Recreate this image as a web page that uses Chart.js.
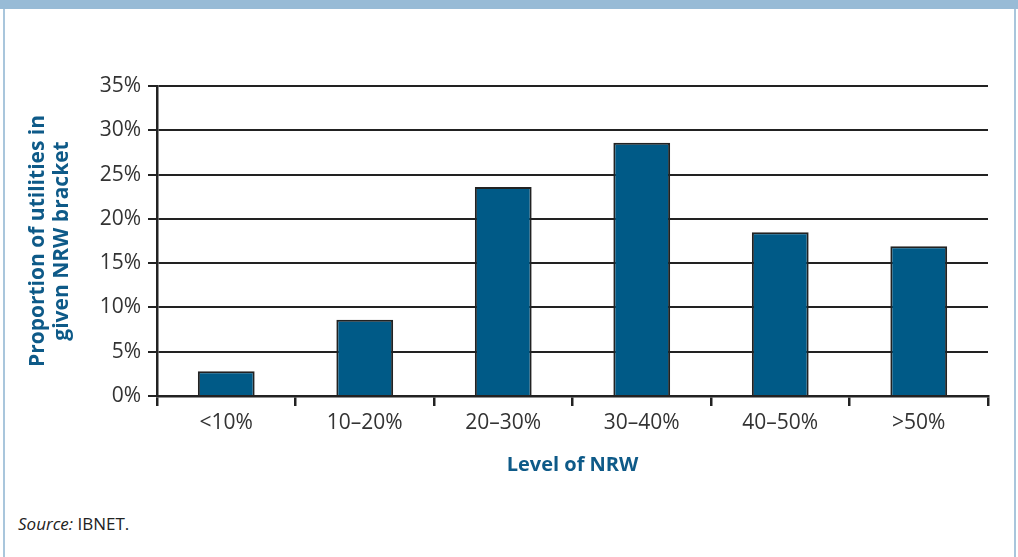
<!DOCTYPE html>
<html>
<head>
<meta charset="utf-8">
<script src="https://cdn.jsdelivr.net/npm/chart.js@4/dist/chart.umd.min.js"></script>
<style>
    body { margin: 0; background: #fff; }
    #wrap { position: relative; width: 1018px; height: 557px; overflow: hidden; }
    #band { position: absolute; left: 0; top: 0; width: 1018px; height: 9px; background: #98BBD6; }
    #lline { position: absolute; left: 3px; top: 9px; width: 2px; height: 548px; background: #A9C6DC; }
    #rline { position: absolute; left: 1014px; top: 9px; width: 2px; height: 548px; background: #A9C6DC; }
    #source { position: absolute; left: 18px; top: 512px; font: 17px "Open Sans", sans-serif; color: #222; }
    canvas { position: absolute; left: 0; top: 0; }
</style>
</head>
<body>
<div id="wrap">
    <div id="band"></div>
    <div id="lline"></div>
    <div id="rline"></div>
    <div id="source"><i>Source:</i> IBNET.</div>
    <canvas id="chart" width="1018" height="557"></canvas>
</div>
<script>
// Data
const categories = ['<10%', '10\u201320%', '20\u201330%', '30\u201340%', '40\u201350%', '>50%'];
const shares = [2.8, 8.6, 23.6, 28.6, 18.5, 16.9];

const BLUE = '#005A87';
const INK = '#222222';
const FONT = '"Open Sans", sans-serif';

const ctx = document.getElementById('chart').getContext('2d');
new Chart(ctx, {
    type: 'bar',
    data: {
        labels: categories,
        datasets: [{
            data: shares,
            backgroundColor: BLUE,
            borderColor: INK,
            borderWidth: 2,
            borderSkipped: 'bottom',
            barPercentage: 0.41,
            categoryPercentage: 1
        }]
    },
    options: {
        responsive: false,
        animation: false,
        layout: { padding: { top: 86, right: 30, bottom: 0, left: 0 } },
        plugins: {
            legend: { display: false },
            tooltip: { enabled: false }
        },
        scales: {
            x: {
                afterFit: (scale) => { scale.height = 161; },
                grid: {
                    offset: true,
                    drawOnChartArea: true,
                    color: (c) => c.index === categories.length ? INK : 'rgba(0,0,0,0)',
                    tickColor: INK,
                    tickLength: 10,
                    lineWidth: 2.5
                },
                border: { display: true, color: INK, width: 2.5 },
                ticks: {
                    color: '#333',
                    padding: 4,
                    font: { family: FONT, size: 21 }
                },
                title: {
                    display: true,
                    text: 'Level of NRW',
                    color: '#0E5A88',
                    font: { family: FONT, size: 20, weight: 'bold' },
                    padding: { top: 0, bottom: 80 }
                }
            },
            y: {
                min: 0,
                max: 35,
                afterFit: (scale) => { scale.width = 157; },
                grid: {
                    color: INK,
                    lineWidth: 2,
                    tickLength: 9
                },
                border: { display: true, color: INK, width: 2.5 },
                ticks: {
                    stepSize: 5,
                    color: '#333',
                    padding: 7,
                    font: { family: FONT, size: 21 },
                    callback: (v) => v + '%'
                },
                title: {
                    display: true,
                    text: ['Proportion of utilities in', 'given NRW bracket'],
                    color: '#0E5A88',
                    font: { family: FONT, size: 21, weight: 'bold', lineHeight: 1.15 },
                    padding: { top: 26, bottom: 0 }
                }
            }
        }
    }
});
</script>
</body>
</html>
